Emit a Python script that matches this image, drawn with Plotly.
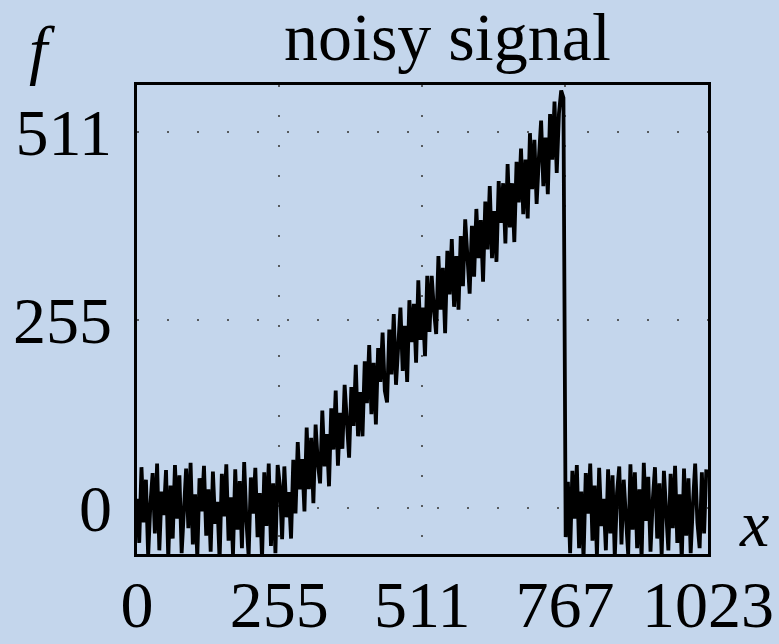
import plotly.graph_objects as go

x_tick_vals = [0, 255, 511, 767, 1023]
x_tick_text = ["0", "255", "511", "767", "1023"]
y_tick_vals = [0, 255, 511]
y_tick_text = ["0", "255", "511"]

title_text = "noisy signal"
x_label = "x"
y_label = "f"

# sample positions (every 4th index of the 0..1023 signal)
x = list(range(0, 1024, 4))

# signal values
f = [
    12, -48, 55, -20, 38, -66, 5, 47, -35, 60, -58, 22, -10, 51, -70, 30,
    -42, 58, -15, 44, -62, 9, 53, -28, 61, -50, 18, -68, 40, -5, 57, -38,
    25, -60, 49, -22, 8, -72, 46, -12, 59, -45, 14, -64, 52, -30, 36, -55,
    62, -18, -66, 41, -8, 54, -40, 20, -70, 48, -25, 60, -52, 33, -62, 58,
    30, -43, 56, -13, 21, -42, 65, -8, 89, 25, 66, -5, 109, 25, 95, 6,
    113, 61, 33, 132, 56, 100, 29, 135, 79, 159, 57, 129, 80, 167, 116, 68,
    164, 111, 194, 97, 157, 97, 199, 142, 221, 127, 197, 113, 217, 171, 238, 159,
    143, 242, 181, 263, 167, 221, 272, 186, 247, 171, 282, 225, 277, 197, 309, 228,
    272, 206, 315, 239, 315, 269, 236, 342, 269, 326, 237, 349, 290, 365, 273, 342,
    269, 369, 301, 392, 332, 291, 383, 314, 406, 339, 391, 307, 416, 351, 437, 339,
    403, 334, 444, 387, 441, 359, 467, 381, 441, 361, 470, 415, 488, 399, 473, 393,
    509, 433, 500, 413, 475, 526, 437, 503, 426, 535, 473, 552, 455, 536, 567, 557,
    -40, 35, -62, 50, -15, 58, -55, 22, -70, 47, -8, 60, -45, 30, -66, 54,
    -25, 12, -58, 52, -35, 44, -68, 20, 56, -50, 38, -12, -64, 59, -30, 48,
    -55, 25, -70, 61, -18, 42, -60, 10, 55, -42, 33, -66, 50, -5, -58, 46,
    -28, 57, -48, 18, -72, 53, -38, 40, -62, 5, 60, -20, -55, 48, -35, 52,
]

W, H = 779, 644
L, R, T, B = 137, 71, 85, 90
pw, ph = W - L - R, H - T - B


def px(xp):
    return (xp - L) / pw


def py(yp):
    return (H - B - yp) / ph


serif = "Liberation Serif"
bg = "rgb(196,214,236)"

fig = go.Figure()
fig.add_trace(go.Scatter(x=x, y=f, mode="lines",
                         line=dict(color="black", width=3.8),
                         hoverinfo="skip", showlegend=False))

grid = dict(showgrid=True, gridcolor="rgba(60,60,60,0.8)", gridwidth=2,
            griddash="2px,28px", zeroline=False, showline=True, mirror=True,
            linecolor="black", linewidth=2.5, ticks="", automargin=False,
            tickfont=dict(family=serif, size=66, color="black"))

fig.update_layout(
    width=W, height=H,
    margin=dict(l=L, r=R, t=T, b=B, autoexpand=False),
    paper_bgcolor=bg, plot_bgcolor=bg,
    xaxis=dict(range=[0, 1023], tickvals=x_tick_vals, ticktext=x_tick_text,
               ticklabelstandoff=-9, **grid),
    yaxis=dict(range=[-63, 574.5], tickvals=y_tick_vals, ticktext=y_tick_text,
               ticklabelstandoff=9, **grid),
    annotations=[
        dict(text=title_text, x=px(447.5), y=py(77), xref="paper", yref="paper",
             xanchor="center", yanchor="bottom", showarrow=False,
             font=dict(family=serif, size=68, color="black")),
        dict(text="<i>" + y_label + "</i>", x=px(42), y=py(88), xref="paper", yref="paper",
             xanchor="center", yanchor="bottom", showarrow=False,
             font=dict(family=serif, size=66, color="black")),
        dict(text="<i>" + x_label + "</i>", x=px(754), y=py(562), xref="paper", yref="paper",
             xanchor="center", yanchor="bottom", showarrow=False,
             font=dict(family=serif, size=66, color="black")),
    ],
)

fig.write_html("out.html")
